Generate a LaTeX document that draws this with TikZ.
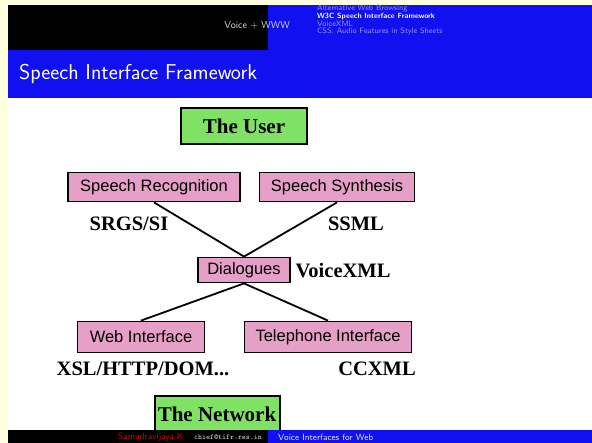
\documentclass[tikz,border=0pt]{standalone}
\usepackage{fontspec}
\setmainfont{Liberation Serif}
\newfontfamily\boxfont{Liberation Sans}
\usepackage{xcolor}
\usetikzlibrary{calc}

\definecolor{slideyellow}{RGB}{255,255,224}
\definecolor{barblue}{RGB}{16,16,240}
\definecolor{boxpink}{RGB}{230,160,200}
\definecolor{boxgreen}{RGB}{128,226,100}
\definecolor{navgray}{RGB}{150,150,245}

\begin{document}
\begin{tikzpicture}[x=1pt, y=-1pt,
  part/.style={draw, line width=1.8pt, fill=boxpink, inner sep=0pt, minimum height=29pt,
    font=\boxfont\fontsize{16.5}{18}\selectfont},
  end node/.style={draw, line width=2pt, fill=boxgreen, inner sep=0pt, minimum height=36pt,
    font=\bfseries\fontsize{21}{24}\selectfont},
  lang/.style={inner sep=0pt, font=\bfseries\fontsize{20.5}{24}\selectfont},
  nav/.style={anchor=west, inner sep=0pt, text=navgray, font=\sffamily\fontsize{7.8}{8}\selectfont}]
\useasboundingbox (0,0) rectangle (592,443);
\fill[slideyellow] (0,0) rectangle (592,443);
\fill[white] (8,98) rectangle (592,430);
% header
\fill[black] (8,5) rectangle (268,50);
\fill[barblue] (268,5) rectangle (592,50);
\fill[barblue] (8,50) rectangle (592,98);
\node[anchor=east, inner sep=0pt, text=white!85!black, font=\sffamily\fontsize{10}{10}\selectfont] (sect) at (290,25) {Voice + WWW};
\node[nav] (nav1) at (317,9) {Alternative Web Browsing};
\node[nav, text=white, font=\sffamily\bfseries\fontsize{7.5}{8}\selectfont] (nav2) at (317,16.5) {W3C Speech Interface Framework};
\node[nav] (nav3) at (317,24) {VoiceXML};
\node[nav] (nav4) at (317,31.5) {CSS: Audio Features in Style Sheets};
\node[anchor=west, inner sep=0pt, text=white, font=\sffamily\fontsize{21.5}{24}\selectfont] (title) at (19,74) {Speech Interface Framework};

% diagram
\node[end node, minimum width=126pt] (user) at (244,126) {The User};
\node[part, minimum width=172pt] (rec) at (154,187) {Speech Recognition};
\node[part, minimum width=155pt] (syn) at (337,187) {Speech Synthesis};
\node[part, minimum width=92pt, minimum height=25pt] (dia) at (244,270) {Dialogues};
\node[part, minimum width=127pt, minimum height=31pt] (web) at (141,337) {Web Interface};
\node[part, minimum width=167pt, minimum height=31pt] (tel) at (328,337) {Telephone Interface};
\node[lang] (srgs) at (129,224) {SRGS/SI};
\node[lang] (ssml) at (356,224) {SSML};
\node[lang] (vxml) at (343,271) {VoiceXML};
\node[lang] (xsl) at (143,369) {XSL/HTTP/DOM...};
\node[lang] (ccxml) at (377,369) {CCXML};
\node[end node, minimum width=125pt] (net) at (217,414) {The Network};
\path[line width=1.8pt]
(rec.south) edge (dia.north)
(syn.south) edge (dia.north)
(dia.south) edge (web.north)
(dia.south) edge (tel.north);

% footer
\fill[black] (8,430) rectangle (268,443);
\fill[barblue] (268,430) rectangle (592,443);
\node[anchor=west, inner sep=0pt, text=red!85!black, font=\sffamily\fontsize{9}{9}\selectfont] (auth) at (118,437) {Samudravijaya K};
\node[anchor=west, inner sep=0pt, text=white!85!black, font=\ttfamily\fontsize{7.5}{8}\selectfont] (mail) at (194,437) {chief@tifr.res.in};
\node[anchor=west, inner sep=0pt, text=white!90!black, font=\sffamily\fontsize{9}{9}\selectfont] (foot) at (278,437) {Voice Interfaces for Web};
\end{tikzpicture}
\end{document}
